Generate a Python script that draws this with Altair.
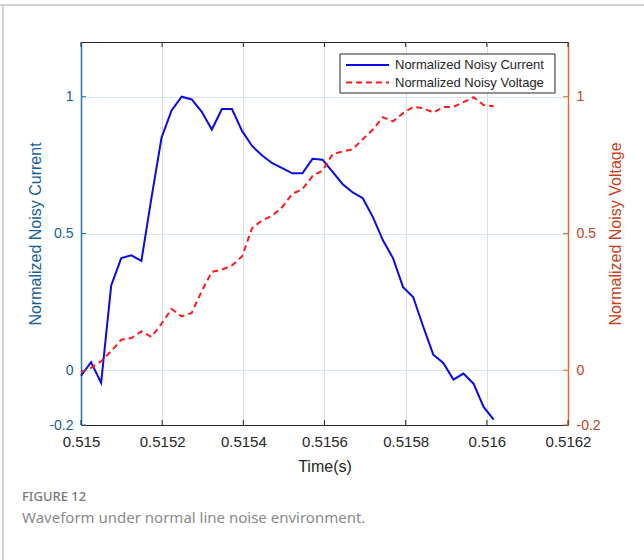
import altair as alt
import pandas as pd

# Sampling grid of the recorded window
T_START = 0.515
T_STEP = 0.0000248

# Normalized noisy current (solid blue) and voltage (dashed red)
current = [-0.02, 0.03, -0.046, 0.31, 0.41, 0.42, 0.40, 0.63, 0.85, 0.95,
           1.0, 0.99, 0.945, 0.88, 0.955, 0.955, 0.875, 0.82, 0.785, 0.757,
           0.739, 0.72, 0.72, 0.773, 0.77, 0.725, 0.68, 0.65, 0.629, 0.56,
           0.475, 0.41, 0.304, 0.268, 0.16, 0.057, 0.027, -0.034, -0.012, -0.049,
           -0.134, -0.18]
voltage = [-0.007, 0.009, 0.033, 0.07, 0.112, 0.118, 0.142, 0.122, 0.17, 0.224,
           0.197, 0.21, 0.29, 0.36, 0.368, 0.383, 0.416, 0.52, 0.548, 0.565,
           0.597, 0.645, 0.662, 0.71, 0.73, 0.79, 0.80, 0.808, 0.845, 0.88,
           0.925, 0.91, 0.94, 0.963, 0.958, 0.942, 0.962, 0.963, 0.98, 0.998,
           0.97, 0.965]
time = [round(T_START + k * T_STEP, 8) for k in range(len(current))]

x_ticks = [0.515, 0.5152, 0.5154, 0.5156, 0.5158, 0.516, 0.5162]
y_ticks = [-0.2, 0, 0.5, 1]
legend_labels = ["Normalized Noisy Current", "Normalized Noisy Voltage"]

W, H = 487, 383
LEFT_C, LEFT_T = "#1f78b0", "#155e9c"
RIGHT_C, RIGHT_T = "#e06a35", "#c8401a"
DARK = "#262626"
FONT = "Liberation Sans"

df = pd.DataFrame({"t": time, "current": current, "voltage": voltage})
xt = pd.DataFrame({"t": x_ticks})
yt = pd.DataFrame({"v": y_ticks})
one = pd.DataFrame({"k": [0]})

xscale = alt.Scale(domain=[0.515, 0.5162], nice=False, zero=False)
yscale = alt.Scale(domain=[-0.2, 1.2], nice=False, zero=False)

x_axis = alt.Axis(values=x_ticks, format=".4~f", title="Time(s)", ticks=False,
                  labelFlush=False, labelOverlap=False, labelPadding=9,
                  labelFontSize=15, labelColor=DARK, titleFontSize=16,
                  titleFontWeight="normal", titleColor=DARK, titleY=41,
                  titleBaseline="middle", domainColor=DARK, grid=True,
                  gridColor="#dcdcdc", gridWidth=1)

y_label = "'' + round(datum.value * 10) / 10"

left_axis = alt.Axis(values=y_ticks, labelExpr=y_label, ticks=False,
                     title="Normalized Noisy Current", labelFlush=False,
                     labelPadding=8, labelFontSize=14, labelColor=LEFT_T,
                     titleFontSize=16, titleFontWeight="normal",
                     titleColor=LEFT_T, titleAngle=270, titleX=-46, titleY=H / 2,
                     titleAlign="center", titleBaseline="middle",
                     domainColor=LEFT_C, domainWidth=1.5, grid=True,
                     gridColor="#d6e7f1", gridWidth=1)

right_axis = alt.Axis(values=y_ticks, labelExpr=y_label, ticks=False,
                      orient="right", title="Normalized Noisy Voltage",
                      labelFlush=False, labelPadding=8, labelFontSize=14,
                      labelColor=RIGHT_T, titleFontSize=16,
                      titleFontWeight="normal", titleColor=RIGHT_T,
                      titleAngle=270, titleX=47, titleY=H / 2,
                      titleAlign="center", titleBaseline="middle",
                      domainColor=RIGHT_C, domainWidth=1.5, grid=False)

X = alt.X("t:Q", scale=xscale, axis=x_axis)

cur_line = alt.Chart(df).mark_line(color="#0a0ae6", strokeWidth=2).encode(
    x=X,
    y=alt.Y("current:Q", scale=yscale, axis=left_axis),
)

volt_line = alt.Chart(df).mark_line(color="#ff1a1a", strokeWidth=2,
                                    strokeDash=[6, 4]).encode(
    x=X,
    y=alt.Y("voltage:Q", scale=yscale, axis=right_axis),
)

# Inward-pointing tick marks on all four sides
tick_bottom = alt.Chart(xt).mark_rule(color=DARK, strokeWidth=1).encode(
    x=X, y=alt.value(H), y2=alt.value(H - 5))
tick_top = alt.Chart(xt).mark_rule(color=DARK, strokeWidth=1).encode(
    x=X, y=alt.value(0), y2=alt.value(5))
tick_left = alt.Chart(yt).mark_rule(color=LEFT_C, strokeWidth=1).encode(
    y=alt.Y("v:Q", scale=yscale, axis=None), x=alt.value(0), x2=alt.value(5))
tick_right = alt.Chart(yt).mark_rule(color=RIGHT_C, strokeWidth=1).encode(
    y=alt.Y("v:Q", scale=yscale, axis=None), x=alt.value(W - 5), x2=alt.value(W))

# Legend box
leg_box = alt.Chart(one).mark_rect(fill="white", stroke=DARK, strokeWidth=1).encode(
    x=alt.value(259), x2=alt.value(474), y=alt.value(12), y2=alt.value(51))
leg_cur = alt.Chart(one).mark_rule(color="#0a0ae6", strokeWidth=2).encode(
    x=alt.value(265), x2=alt.value(308), y=alt.value(23))
leg_volt = alt.Chart(one).mark_rule(color="#ff1a1a", strokeWidth=2,
                                    strokeDash=[6, 4]).encode(
    x=alt.value(265), x2=alt.value(308), y=alt.value(40.5))
leg_txt1 = alt.Chart(one).mark_text(align="left", baseline="middle", font=FONT,
                                    fontSize=13, color=DARK,
                                    text=legend_labels[0]).encode(
    x=alt.value(314), y=alt.value(23))
leg_txt2 = alt.Chart(one).mark_text(align="left", baseline="middle", font=FONT,
                                    fontSize=13, color=DARK,
                                    text=legend_labels[1]).encode(
    x=alt.value(314), y=alt.value(40.5))

# Figure frame and caption
frame_top = alt.Chart(one).mark_rule(color="#d2d2d2", strokeWidth=2).encode(
    x=alt.value(-81), x2=alt.value(644 - 81), y=alt.value(-37))
frame_left = alt.Chart(one).mark_rule(color="#d2d2d2", strokeWidth=2).encode(
    x=alt.value(-78), y=alt.value(-37), y2=alt.value(560 - 42))
fig_label = alt.Chart(one).mark_text(align="left", baseline="middle",
                                     font="Noto Sans", fontSize=13,
                                     fontWeight=500, color="#7a7a7a",
                                     text="FIGURE 12").encode(
    x=alt.value(-59), y=alt.value(455))
fig_caption = alt.Chart(one).mark_text(align="left", baseline="middle",
                                       font="Noto Sans", fontSize=15,
                                       color="#8a8a8a",
                                       text="Waveform under normal line noise environment.").encode(
    x=alt.value(-59), y=alt.value(476))

chart = alt.layer(
    cur_line, volt_line,
    tick_bottom, tick_top, tick_left, tick_right,
    leg_box, leg_cur, leg_volt, leg_txt1, leg_txt2,
    frame_top, frame_left, fig_label, fig_caption,
).resolve_scale(y="independent").resolve_axis(y="independent").properties(
    width=W, height=H,
    autosize=alt.AutoSizeParams(type="none"),
    padding={"left": 81, "top": 42, "right": 644 - 81 - W, "bottom": 560 - 42 - H},
    background="white",
).configure_view(stroke=DARK, strokeWidth=1).configure_axis(
    labelFont=FONT, titleFont=FONT
)

chart.save("out.html", embed_options={"renderer": "svg", "actions": False})
